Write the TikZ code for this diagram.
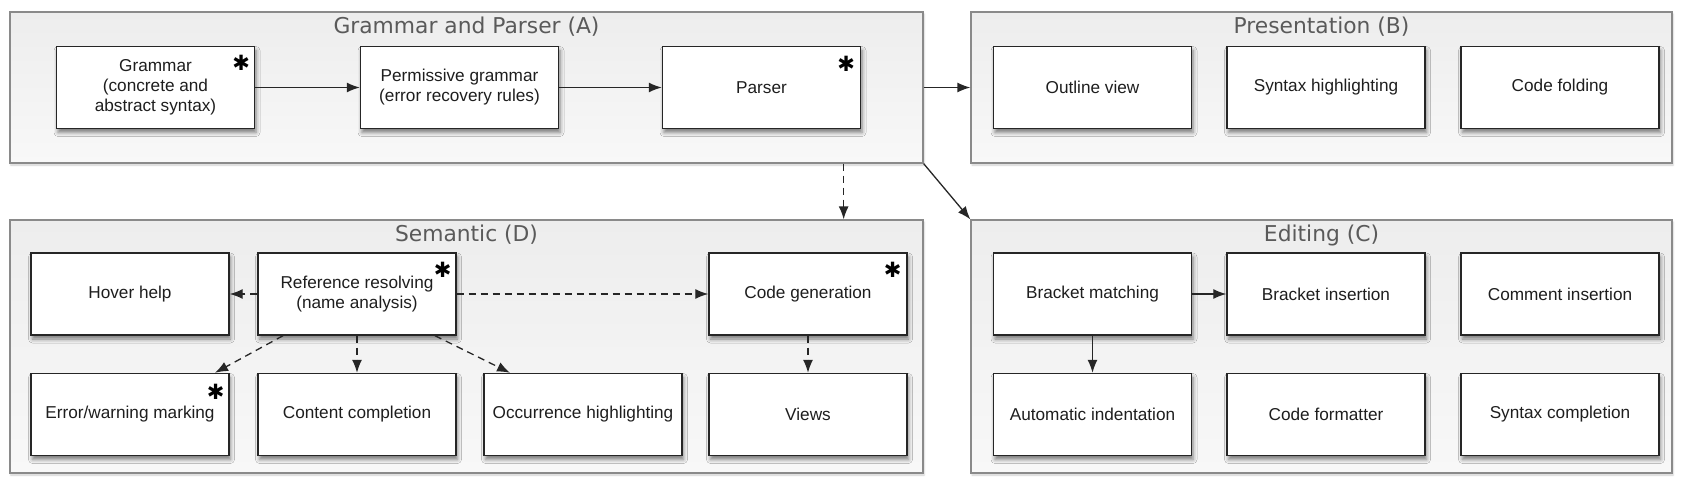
\documentclass[tikz,border=0pt]{standalone}
\usepackage{fontspec}
\newfontfamily\boxfont{Liberation Sans}
\newfontfamily\titlefont{DejaVu Sans}
\usetikzlibrary{arrows.meta,shadows.blur}
\definecolor{boxline}{HTML}{262626}
\definecolor{grpline}{HTML}{8A8A8A}
\definecolor{grptop}{HTML}{EDEDED}
\definecolor{grpbot}{HTML}{F8F8F8}
\definecolor{titlegray}{HTML}{5A5A5A}
\definecolor{boxtext}{HTML}{1E1E1E}
\begin{document}
\begin{tikzpicture}[x=1pt,y=-1pt,
  box/.style={draw=boxline, line width=1.4pt, fill=white, minimum width=198pt,
    minimum height=82pt, inner sep=0pt, align=center, text=boxtext,
    font=\boxfont\fontsize{17.2}{20}\selectfont,
    blur shadow={shadow xshift=1.5pt, shadow yshift=-4pt, shadow blur radius=4pt, shadow opacity=50}},
  group/.style={draw=grpline, line width=1.3pt, top color=grptop, bottom color=grpbot,
    inner sep=0pt,
    blur shadow={shadow xshift=1pt, shadow yshift=-2pt, shadow blur radius=2pt, shadow opacity=20}},
  grptitle/.style={font=\titlefont\fontsize{21.8}{24}\selectfont, text=titlegray, anchor=base, inner sep=0pt},
  starmark/.style={font=\titlefont\fontsize{21}{21}\selectfont, inner sep=0pt, text=black},
  solidarrow/.style={-{Latex[length=13pt,width=10pt]}, line width=1.3pt, draw=boxline},
  dasharrow/.style={solidarrow, dash pattern=on 7pt off 5pt},
]
\useasboundingbox (0,0) rectangle (1683,485);

% groups
\node[group, minimum width=913pt, minimum height=151pt] (gA) at (466.5,87.5) {};
\node[group, minimum width=701pt, minimum height=151pt] (gB) at (1321.5,87.5) {};
\node[group, minimum width=913pt, minimum height=253pt] (gD) at (466.5,346.5) {};
\node[group, minimum width=701pt, minimum height=253pt] (gC) at (1321.5,346.5) {};

\node[grptitle] (tA) at ([yshift=-22pt]gA.north) {Grammar and Parser (A)};
\node[grptitle] (tB) at ([yshift=-22pt]gB.north) {Presentation (B)};
\node[grptitle] (tD) at ([yshift=-22pt]gD.north) {Semantic (D)};
\node[grptitle] (tC) at ([yshift=-22pt]gC.north) {Editing (C)};

% group A
\node[box] (gram) at (155.5,87.5) {Grammar\\(concrete and\\abstract syntax)};
\node[box] (perm) at (459.5,87.5) {Permissive grammar\\(error recovery rules)};
\node[box] (pars) at (761.5,87.5) {Parser};

% group B
\node[box] (outl) at (1092.5,87.5) {Outline view};
\node[box] (synh) at (1326,87.5) {Syntax highlighting};
\node[box] (fold) at (1560,87.5) {Code folding};

% group D
\node[box] (hover) at (130,294) {Hover help};
\node[box] (ref) at (357,294) {Reference resolving\\(name analysis)};
\node[box] (cgen) at (808,294) {Code generation};
\node[box] (err) at (130,414.5) {Error/warning marking};
\node[box] (cont) at (357,414.5) {Content completion};
\node[box] (occ) at (583,414.5) {Occurrence highlighting};
\node[box] (views) at (808,414.5) {Views};

% group C
\node[box] (bm) at (1092.5,294) {Bracket matching};
\node[box] (bi) at (1326,294) {Bracket insertion};
\node[box] (ci) at (1560,294) {Comment insertion};
\node[box] (ai) at (1092.5,414.5) {Automatic indentation};
\node[box] (cf) at (1326,414.5) {Code formatter};
\node[box] (sc) at (1560,414.5) {Syntax completion};

% stars
\node[starmark] (s1) at ([xshift=-14pt,yshift=-17pt]gram.north east) {✱};
\node[starmark] (s2) at ([xshift=-15pt,yshift=-18pt]pars.north east) {✱};
\node[starmark] (s3) at ([xshift=-14pt,yshift=-18pt]ref.north east) {✱};
\node[starmark] (s4) at ([xshift=-15pt,yshift=-18pt]cgen.north east) {✱};
\node[starmark] (s5) at ([xshift=-14pt,yshift=-19pt]err.north east) {✱};

% connectors
\draw[solidarrow] (gram.east) -- (perm.west);
\draw[solidarrow] (perm.east) -- (pars.west);
\draw[solidarrow] (gA.east) -- (gB.west);
\draw[dasharrow] ([xshift=-80pt]gA.south east) -- ([xshift=-80pt]gD.north east);
\draw[solidarrow] (gA.south east) -- (gC.north west);

\draw[dasharrow] (ref.west) -- (hover.east);
\draw[dasharrow] (ref.east) -- (cgen.west);
\draw[dasharrow] ([xshift=-74pt]ref.south) -- ([xshift=85pt]err.north);
\draw[dasharrow] (ref.south) -- (cont.north);
\draw[dasharrow] ([xshift=78pt]ref.south) -- ([xshift=-73pt]occ.north);
\draw[dasharrow] (cgen.south) -- (views.north);

\draw[solidarrow] (bm.east) -- (bi.west);
\draw[solidarrow] (bm.south) -- (ai.north);
\end{tikzpicture}
\end{document}
